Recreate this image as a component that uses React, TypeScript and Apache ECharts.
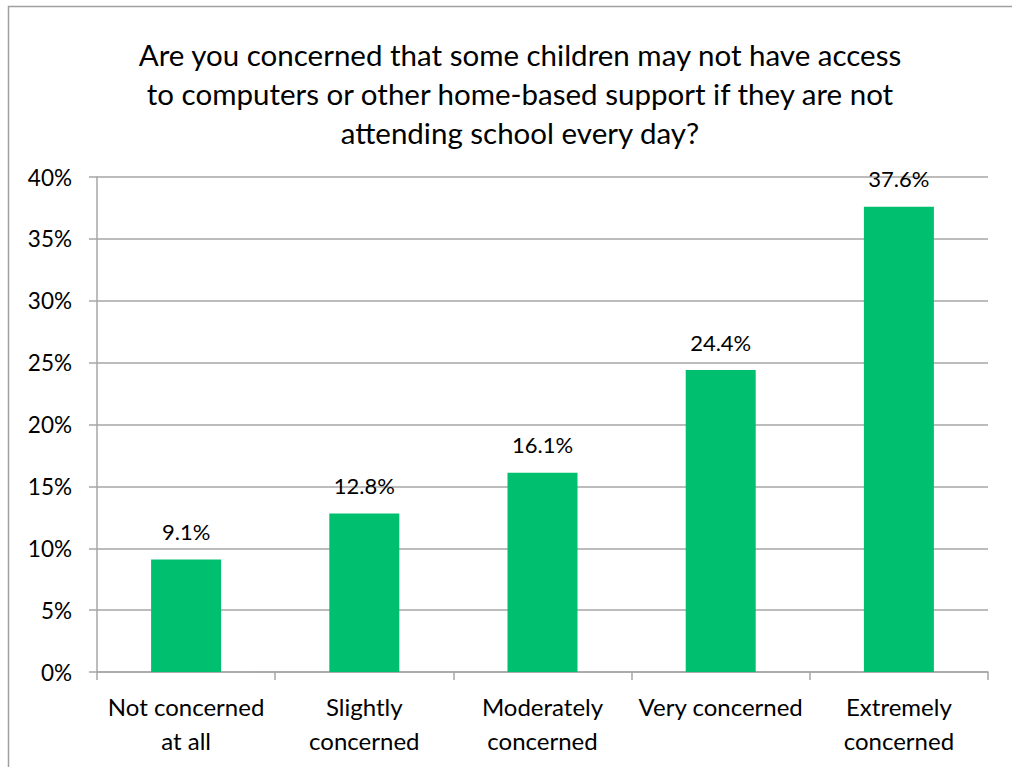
import React, { useEffect, useRef } from "react";
import * as echarts from "echarts";

const categories = ["Not concerned\nat all", "Slightly\nconcerned", "Moderately\nconcerned", "Very concerned", "Extremely\nconcerned"];
const values = [9.1, 12.8, 16.1, 24.4, 37.6];
const titleText = "Are you concerned that some children may not have access\nto computers or other home-based support if they are not\nattending school every day?";

const FONT = "Lato, 'Open Sans', sans-serif";

export default function App() {
  const ref = useRef<HTMLDivElement>(null);
  useEffect(() => {
    const chart = echarts.init(ref.current!, null, { renderer: "svg" });
    chart.setOption({
      animation: false,
      backgroundColor: "#ffffff",
      title: {
        text: titleText,
        left: 515,
        textAlign: "center",
        top: 30,
        textStyle: { fontFamily: FONT, fontSize: 29.5, fontWeight: "normal", color: "#000", lineHeight: 39 },
      },
      graphic: [
        {
          type: "rect",
          shape: { x: 8.5, y: 6.5, width: 1100, height: 900 },
          style: { fill: "none", stroke: "#a0a0a0", lineWidth: 1.5 },
          silent: true,
        },
      ],
      grid: { left: 97, right: 24, top: 177, bottom: 95 },
      xAxis: {
        type: "category",
        data: categories,
        axisLine: { lineStyle: { color: "#a6a6a6", width: 1.5 } },
        axisTick: { show: true, length: 8, lineStyle: { color: "#a6a6a6", width: 1.5 } },
        axisLabel: { fontFamily: FONT, fontSize: 24, color: "#000", lineHeight: 34, margin: 17, interval: 0 },
      },
      yAxis: {
        type: "value",
        min: 0,
        max: 40,
        interval: 5,
        axisLine: { show: true, lineStyle: { color: "#a6a6a6", width: 1.5 } },
        axisTick: { show: true, length: 8, lineStyle: { color: "#a6a6a6", width: 1.5 } },
        axisLabel: { fontFamily: FONT, fontSize: 22.5, color: "#000", margin: 25, formatter: "{value}%" },
        splitLine: { show: true, lineStyle: { color: "#a6a6a6", width: 1.5 } },
      },
      series: [
        {
          type: "bar",
          data: values,
          barWidth: 70,
          itemStyle: { color: "#00BF6F" },
          label: {
            show: true,
            position: "top",
            distance: 17,
            fontFamily: FONT,
            fontSize: 22,
            color: "#000",
            formatter: (p: any) => p.value.toFixed(1) + "%",
          },
        },
      ],
    });
    return () => chart.dispose();
  }, []);
  return <div ref={ref} style={{ position: "absolute", left: 0, top: 0, width: 1012, height: 767 }} />;
}
